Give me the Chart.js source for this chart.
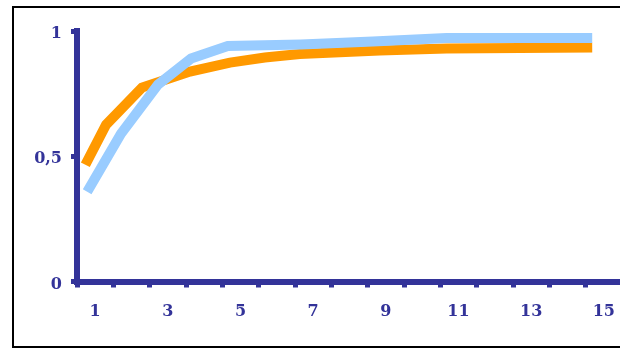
<!DOCTYPE html>
<html>
<head>
<meta charset="utf-8">
<script src="https://cdn.jsdelivr.net/npm/chart.js@4/dist/chart.umd.min.js"></script>
<style>
  html, body { margin: 0; padding: 0; background: #ffffff; overflow: hidden; }
  #wrap { position: absolute; left: 0; top: 0; width: 640px; height: 350px; }
</style>
</head>
<body>
<div id="wrap"><canvas id="c" width="640" height="350"></canvas></div>
<script>
// Category axis labels (x)
const categories = ['1','2','3','4','5','6','7','8','9','10','11','12','13','14','15'];
// Y tick labels (decimal comma)
const yTickLabels = ['0', '0,5', '1'];

// Light blue series (x positions along the category scale, y values)
const blueX = [0.78, 1.71, 2.73, 3.64, 4.65, 6.66, 8.64, 10.67, 12.68, 14.68];
const blueY = [0.358, 0.59, 0.786, 0.89, 0.94, 0.946, 0.958, 0.972, 0.972, 0.972];

// Orange series
const orangeX = [0.73, 1.30, 2.29, 3.61, 4.71, 5.67, 6.63, 8.83, 10.67, 12.68, 14.68];
const orangeY = [0.466, 0.626, 0.774, 0.838, 0.874, 0.894, 0.908, 0.922, 0.930, 0.932, 0.934];

const AXIS = '#333399';
const toPts = (xs, ys) => xs.map((x, i) => ({ x: x, y: ys[i] }));

const framePlugin = {
  id: 'frame',
  afterDraw(chart) {
    const ctx = chart.ctx;
    ctx.save();
    ctx.strokeStyle = '#000000';
    ctx.lineWidth = 2;
    ctx.strokeRect(13, 7, 700, 340);
    ctx.restore();
  }
};

new Chart(document.getElementById('c'), {
  type: 'line',
  data: {
    labels: categories,
    datasets: [
      {
        label: 'blue',
        data: toPts(blueX, blueY),
        xAxisID: 'xl',
        borderColor: '#99CCFF',
        borderWidth: 10,
        borderCapStyle: 'butt',
        borderJoinStyle: 'miter',
        pointRadius: 0,
        tension: 0,
        fill: false
      },
      {
        label: 'orange',
        data: toPts(orangeX, orangeY),
        xAxisID: 'xl',
        borderColor: '#FF9900',
        borderWidth: 10,
        borderCapStyle: 'butt',
        borderJoinStyle: 'miter',
        pointRadius: 0,
        tension: 0,
        fill: false
      }
    ]
  },
  options: {
    responsive: false,
    animation: false,
    devicePixelRatio: 1,
    layout: { padding: { left: 0, top: 31, right: 18, bottom: 0 } },
    plugins: { legend: { display: false }, tooltip: { enabled: false } },
    scales: {
      x: {
        type: 'category',
        position: 'bottom',
        offset: true,
        afterFit(scale) { scale.height = 68.5; },
        grid: {
          offset: true,
          drawOnChartArea: false,
          drawTicks: true,
          tickLength: 6,
          color: AXIS,
          lineWidth: 5
        },
        border: { display: true, color: AXIS, width: 6 },
        ticks: {
          autoSkip: false,
          maxRotation: 0,
          padding: 15,
          color: AXIS,
          font: { family: 'DejaVu Serif', size: 16, weight: 'bold' },
          callback(value, index) { return index % 2 === 0 ? categories[index] : ''; }
        }
      },
      xl: {
        type: 'linear',
        display: false,
        position: 'bottom',
        min: 0.5,
        max: 15.5
      },
      y: {
        type: 'linear',
        min: 0,
        max: 1,
        afterFit(scale) { scale.width = 77; },
        grid: {
          drawOnChartArea: false,
          drawTicks: true,
          tickLength: 6,
          color: AXIS,
          lineWidth: 5
        },
        border: { display: true, color: AXIS, width: 6 },
        ticks: {
          stepSize: 0.5,
          padding: 9,
          labelOffset: 3,
          color: AXIS,
          font: { family: 'DejaVu Serif', size: 16, weight: 'bold' },
          callback(value, index) { return yTickLabels[index]; }
        }
      }
    }
  },
  plugins: [framePlugin]
});
</script>
</body>
</html>
